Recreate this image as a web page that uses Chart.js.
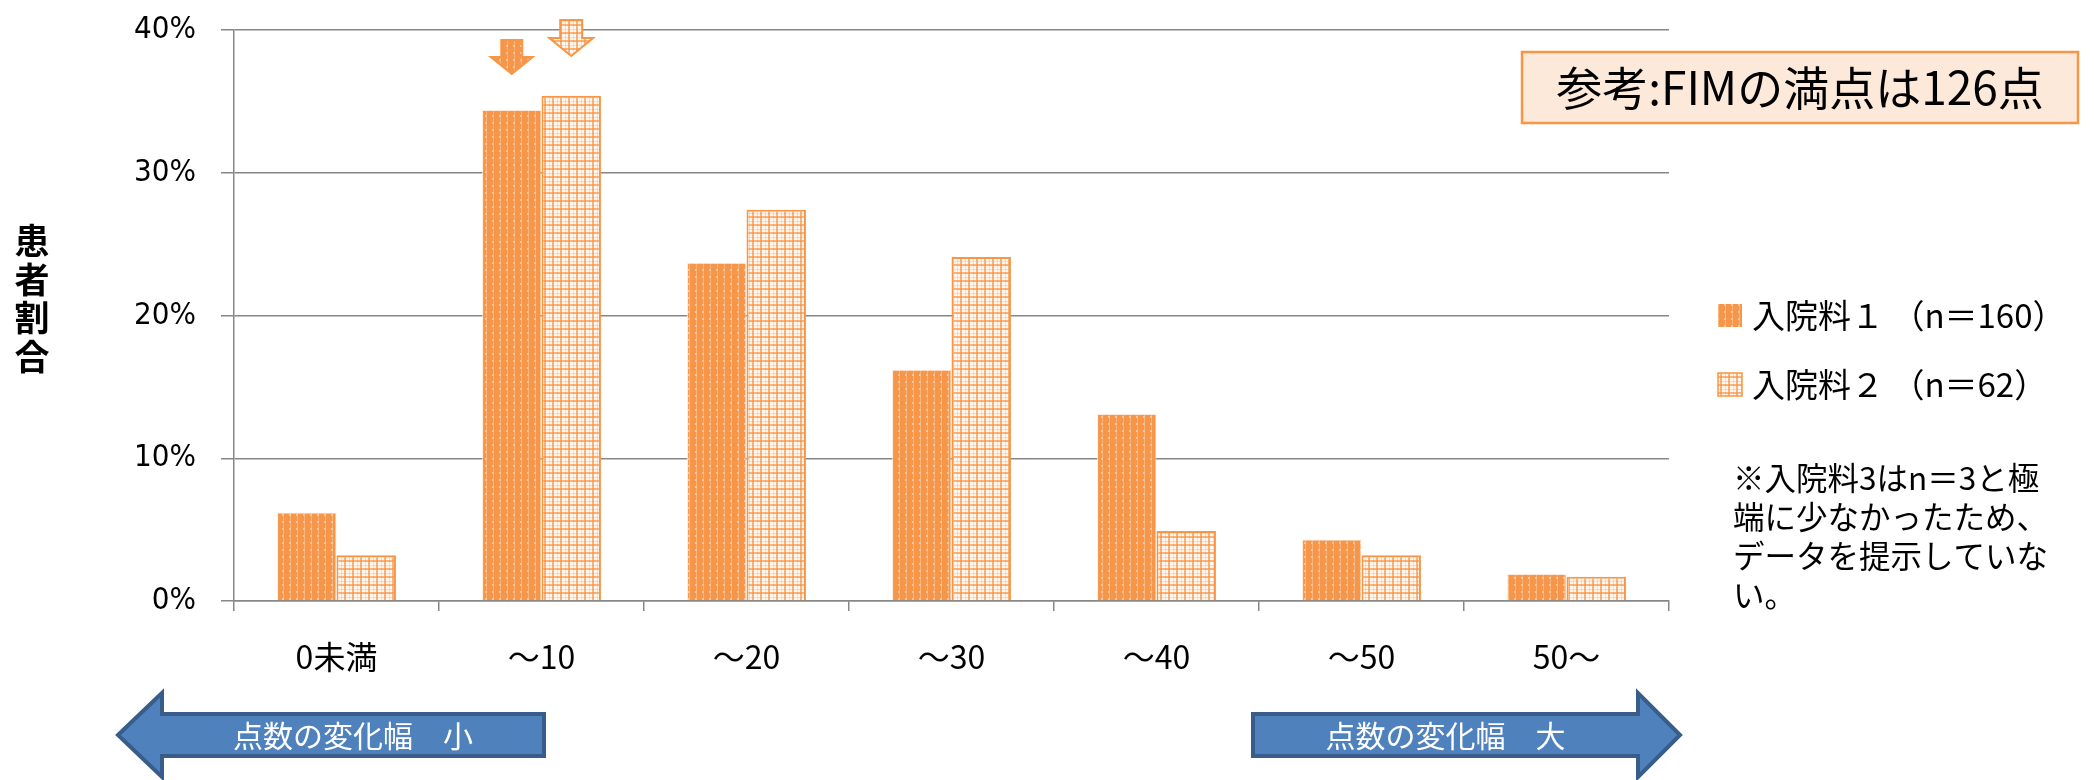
<!DOCTYPE html>
<html>
<head>
<meta charset="utf-8">
<script src="https://cdn.jsdelivr.net/npm/chart.js@4.4.1/dist/chart.umd.min.js"></script>
<style>
  body { margin: 0; background: #fff; }
  #wrap { width: 2094px; height: 780px; position: relative; }
</style>
</head>
<body>
<div id="wrap"><canvas id="grafico"></canvas></div>
<script>
// データ
const categorias = ['0未満', '～10', '～20', '～30', '～40', '～50', '50～'];
const nyuin1 = [6.2, 34.4, 23.7, 16.2, 13.1, 4.3, 1.9];
const nyuin2 = [3.2, 35.4, 27.4, 24.1, 4.9, 3.2, 1.7];
const seriesLabels = ['入院料１ （n＝160）', '入院料２ （n＝62）'];
const yTicks = [0, 10, 20, 30, 40];
const noteLines = ['※入院料3はn＝3と極', '端に少なかったため、', 'データを提示していな', 'い。'];

const JP = '"Noto Sans CJK JP", "DejaVu Sans", sans-serif';
const NUM = '"DejaVu Sans Condensed", "DejaVu Sans", sans-serif';
const ORANGE = '#F79646';

// パターン
function patron1() {
  const c = document.createElement('canvas');
  c.width = 7; c.height = 7;
  const g = c.getContext('2d');
  g.fillStyle = '#F6964A'; g.fillRect(0, 0, 7, 7);
  g.fillStyle = 'rgba(255,205,160,0.5)'; g.fillRect(3, 0, 1, 7);
  g.fillStyle = '#FBC49A'; g.fillRect(2, 3, 2, 2);
  return g.createPattern(c, 'repeat');
}
function patron2() {
  const c = document.createElement('canvas');
  c.width = 8; c.height = 8;
  const g = c.getContext('2d');
  g.fillStyle = '#FFF6EF'; g.fillRect(0, 0, 8, 8);
  g.fillStyle = 'rgba(247,150,70,0.7)';
  g.fillRect(0, 0, 2, 8);
  g.fillRect(0, 0, 8, 2);
  g.fillStyle = 'rgba(247,150,70,0.28)';
  g.fillRect(5, 0, 1, 8);
  g.fillRect(0, 5, 8, 1);
  return g.createPattern(c, 'repeat');
}
const pat1 = patron1();
const pat2 = patron2();

function flecha(ctx, x0, x1, yc, bodyH, headH, headL, dir, texto) {
  ctx.save();
  ctx.beginPath();
  if (dir < 0) {
    ctx.moveTo(x0, yc);
    ctx.lineTo(x0 + headL, yc - headH);
    ctx.lineTo(x0 + headL, yc - bodyH);
    ctx.lineTo(x1, yc - bodyH);
    ctx.lineTo(x1, yc + bodyH);
    ctx.lineTo(x0 + headL, yc + bodyH);
    ctx.lineTo(x0 + headL, yc + headH);
  } else {
    ctx.moveTo(x1, yc);
    ctx.lineTo(x1 - headL, yc - headH);
    ctx.lineTo(x1 - headL, yc - bodyH);
    ctx.lineTo(x0, yc - bodyH);
    ctx.lineTo(x0, yc + bodyH);
    ctx.lineTo(x1 - headL, yc + bodyH);
    ctx.lineTo(x1 - headL, yc + headH);
  }
  ctx.closePath();
  ctx.fillStyle = '#4F81BD';
  ctx.fill();
  ctx.lineWidth = 4;
  ctx.strokeStyle = '#385D8A';
  ctx.stroke();
  ctx.fillStyle = '#fff';
  ctx.font = '30px ' + JP;
  ctx.textAlign = 'center';
  ctx.textBaseline = 'middle';
  const cx = dir < 0 ? (x0 + headL + x1) / 2 : (x0 + x1 - headL) / 2;
  ctx.fillText(texto, cx, yc + 1);
  ctx.restore();
}

function flechaAbajo(ctx, cx, top, w, h, fill, stroke) {
  const stemW = w * 0.5, stemH = h * 0.5;
  ctx.save();
  ctx.beginPath();
  ctx.moveTo(cx - stemW / 2, top);
  ctx.lineTo(cx + stemW / 2, top);
  ctx.lineTo(cx + stemW / 2, top + stemH);
  ctx.lineTo(cx + w / 2, top + stemH);
  ctx.lineTo(cx, top + h);
  ctx.lineTo(cx - w / 2, top + stemH);
  ctx.lineTo(cx - stemW / 2, top + stemH);
  ctx.closePath();
  ctx.fillStyle = fill;
  ctx.fill();
  ctx.lineWidth = 2;
  ctx.strokeStyle = stroke;
  ctx.stroke();
  ctx.restore();
}

const extras = {
  id: 'extras',
  afterDraw(chart) {
    const ctx = chart.ctx;
    // 縦軸タイトル
    ctx.save();
    ctx.fillStyle = '#000';
    ctx.font = 'bold 35px ' + JP;
    ctx.textAlign = 'center';
    ctx.textBaseline = 'middle';
    ['患', '者', '割', '合'].forEach((ch, i) => ctx.fillText(ch, 32, 241 + i * 38.5));
    ctx.restore();

    // 矢印（～10）
    const b1 = chart.getDatasetMeta(0).data[1];
    const b2 = chart.getDatasetMeta(1).data[1];
    flechaAbajo(ctx, b1.x, 40, 42, 34, pat1, ORANGE);
    flechaAbajo(ctx, b2.x, 20, 44, 36, pat2, ORANGE);

    // 凡例
    ctx.save();
    ctx.font = '33px ' + JP;
    ctx.textBaseline = 'middle';
    [[pat1, 315], [pat2, 384]].forEach(([p, y], i) => {
      ctx.fillStyle = p;
      ctx.fillRect(1718, y - 11, 24, 23);
      if (i === 1) { ctx.strokeStyle = ORANGE; ctx.lineWidth = 1.5; ctx.strokeRect(1718, y - 11, 24, 23); }
      ctx.fillStyle = '#000';
      ctx.fillText(seriesLabels[i], 1752, y);
    });
    // 注記
    ctx.font = '31.5px ' + JP;
    noteLines.forEach((t, i) => ctx.fillText(t, 1733, 478 + i * 39));
    ctx.restore();

    // 参考ボックス
    ctx.save();
    ctx.fillStyle = '#FDE9D9';
    ctx.fillRect(1522, 52, 556, 71);
    ctx.strokeStyle = ORANGE;
    ctx.lineWidth = 2.5;
    ctx.strokeRect(1522, 52, 556, 71);
    ctx.fillStyle = '#000';
    ctx.font = '46px ' + JP;
    ctx.textAlign = 'center';
    ctx.textBaseline = 'middle';
    ctx.fillText('参考:FIMの満点は126点', 1800, 88);
    ctx.restore();

    // 下部の矢印
    flecha(ctx, 118, 544, 735, 21, 42, 44, -1, '点数の変化幅　小');
    flecha(ctx, 1253, 1680, 735, 21, 42, 42, 1, '点数の変化幅　大');
  }
};

const ctx = document.getElementById('grafico').getContext('2d');
new Chart(ctx, {
  type: 'bar',
  data: {
    labels: categorias,
    datasets: [{
      label: seriesLabels[0],
      data: nyuin1,
      backgroundColor: pat1,
      borderColor: 'rgba(255,230,210,0.8)',
      borderWidth: 1
    }, {
      label: seriesLabels[1],
      data: nyuin2,
      backgroundColor: pat2,
      borderColor: ORANGE,
      borderWidth: 2
    }]
  },
  options: {
    responsive: true,
    maintainAspectRatio: false,
    animation: false,
    layout: { padding: { left: 0, top: 30, right: 425, bottom: 99 } },
    datasets: { bar: { categoryPercentage: 0.58, barPercentage: 1 } },
    plugins: { legend: { display: false }, tooltip: { enabled: false } },
    scales: {
      x: {
        afterFit: s => { s.height = 80; s.paddingLeft = 0; s.paddingRight = 0; },
        grid: { offset: true, drawOnChartArea: false, tickLength: 10, color: '#878787', lineWidth: 1.5 },
        border: { color: '#878787', width: 1.5 },
        ticks: { color: '#000', font: { size: 32, family: JP }, padding: 27, maxRotation: 0 }
      },
      y: {
        min: 0,
        max: 40,
        afterFit: s => { s.width = 234; s.paddingTop = 0; s.paddingBottom = 0; },
        afterBuildTicks: s => { s.ticks = yTicks.map(v => ({ value: v })); },
        grid: { color: '#878787', lineWidth: 1.5, tickLength: 13 },
        border: { color: '#878787', width: 1.5 },
        ticks: { color: '#000', font: { size: 31, family: NUM }, padding: 25, callback: v => v + '%' }
      }
    }
  },
  plugins: [extras]
});
</script>
</body>
</html>
